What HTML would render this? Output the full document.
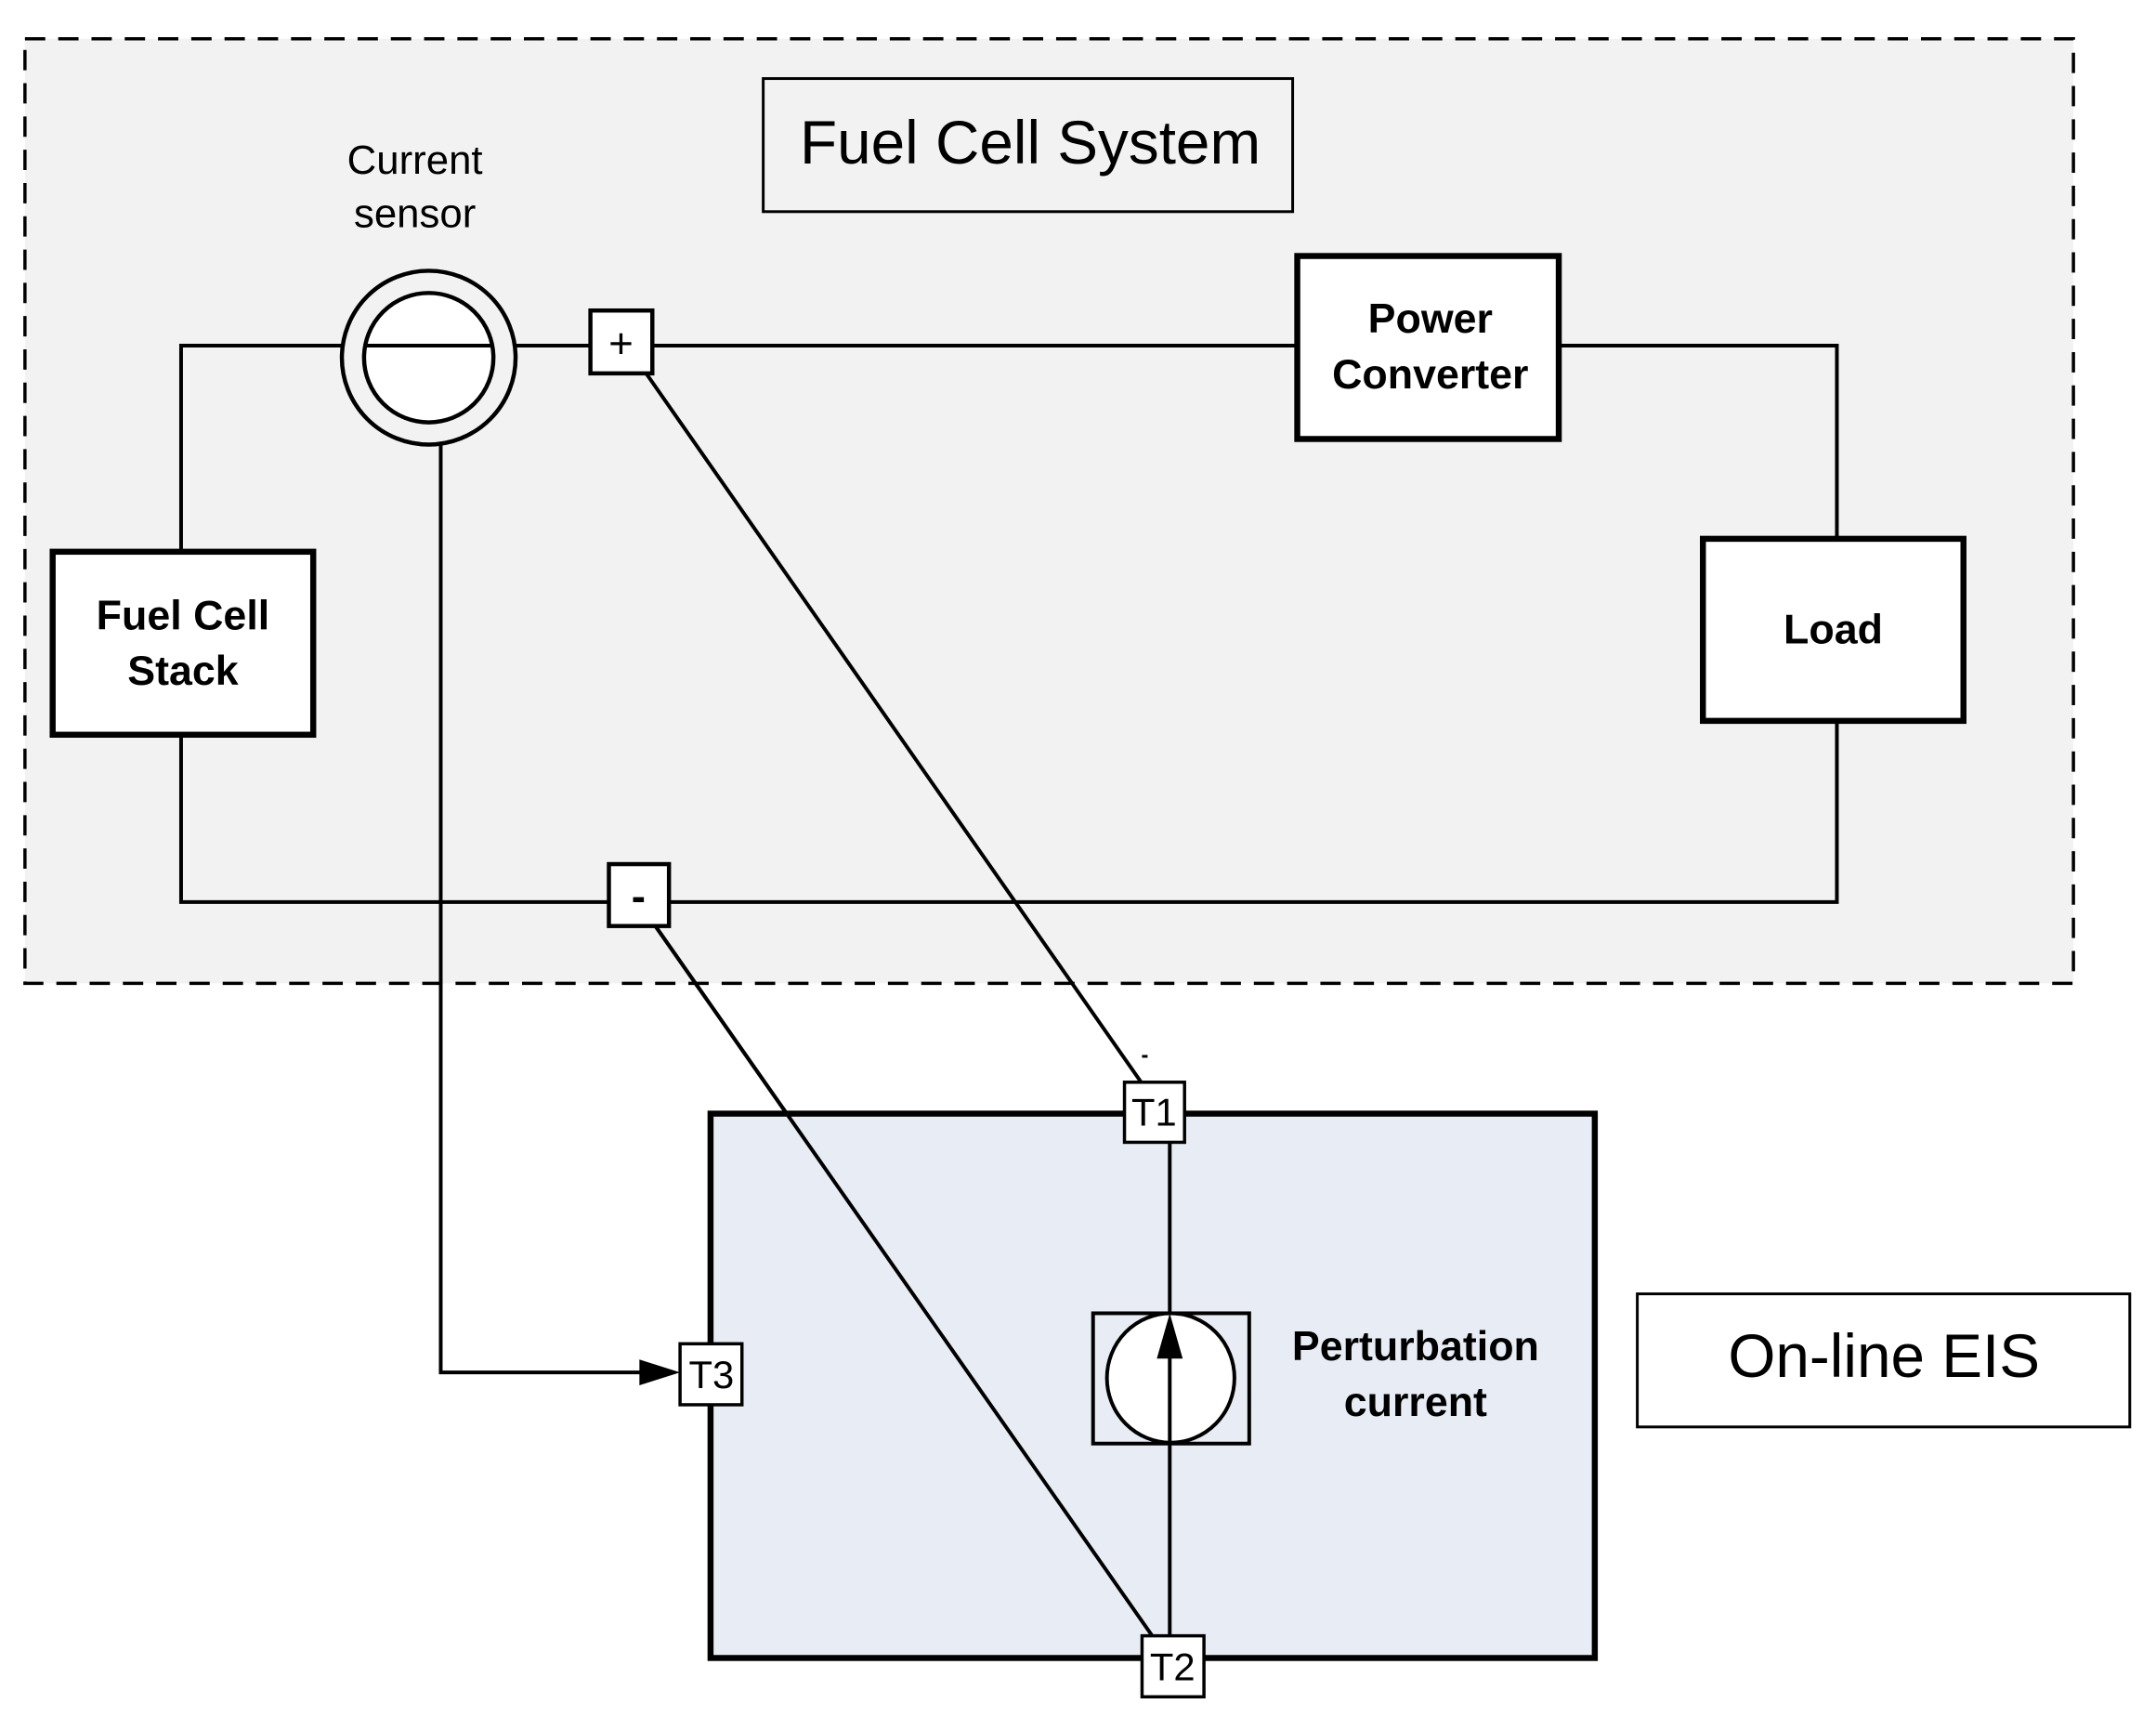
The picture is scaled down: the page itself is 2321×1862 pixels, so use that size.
<!DOCTYPE html>
<html><head><meta charset="utf-8"><style>body{margin:0;background:#fff}</style></head>
<body>
<svg width="2321" height="1857" viewBox="0 0 2321 1857" xmlns="http://www.w3.org/2000/svg" font-family="Liberation Sans, sans-serif">
<rect width="2321" height="1857" fill="#fff"/>
<g transform="scale(0.9947)">
<rect x="27" y="42" width="2217" height="1022" fill="#f2f2f2" stroke="#000" stroke-width="3.5" stroke-dasharray="22,14"/>
<rect x="826" y="85" width="573" height="144" fill="#f2f2f2" stroke="#000" stroke-width="3"/>
<text x="1115" y="177" font-size="66" text-anchor="middle">Fuel Cell System</text>
<text x="449" y="188" font-size="44" text-anchor="middle">Current</text>
<text x="449" y="246" font-size="44" text-anchor="middle">sensor</text>
<g stroke="#000" stroke-width="4" fill="none">
<polyline points="196,597 196,374 1988,374 1988,582"/>
<polyline points="196,795 196,976 1988,976 1988,780"/>
<line x1="700" y1="405" x2="1235" y2="1171"/>
<line x1="710" y1="1003" x2="1247" y2="1770"/>
<polyline points="477,480 477,1485 700,1485"/>
</g>
<polygon points="736,1485 692,1471 692,1499" fill="#000"/>
<line x1="1236" y1="1143" x2="1242" y2="1143" stroke="#000" stroke-width="3"/>
<circle cx="464" cy="387" r="94" fill="#f2f2f2" stroke="#000" stroke-width="4.5"/>
<circle cx="464" cy="387" r="70" fill="#fff" stroke="#000" stroke-width="4.5"/>
<line x1="394" y1="374" x2="534" y2="374" stroke="#000" stroke-width="4"/>
<rect x="639" y="336" width="67" height="68" fill="#fff" stroke="#000" stroke-width="4.5"/>
<text x="672" y="387" font-size="46" text-anchor="middle">+</text>
<rect x="659" y="935" width="65" height="67" fill="#fff" stroke="#000" stroke-width="4.5"/>
<text x="691" y="985" font-size="46" font-weight="bold" text-anchor="middle">-</text>
<rect x="1404" y="277" width="283" height="198" fill="#fff" stroke="#000" stroke-width="6.5"/>
<text x="1548" y="360" font-size="45" font-weight="bold" text-anchor="middle">Power</text>
<text x="1548" y="420" font-size="45" font-weight="bold" text-anchor="middle">Converter</text>
<rect x="1843" y="583" width="282" height="197" fill="#fff" stroke="#000" stroke-width="6.5"/>
<text x="1984" y="696" font-size="45" font-weight="bold" text-anchor="middle">Load</text>
<rect x="57" y="597" width="282" height="198" fill="#fff" stroke="#000" stroke-width="6.5"/>
<text x="198" y="681" font-size="45" font-weight="bold" text-anchor="middle">Fuel Cell</text>
<text x="198" y="741" font-size="45" font-weight="bold" text-anchor="middle">Stack</text>
<rect x="769" y="1205" width="957" height="589" fill="#e8ecf4" stroke="#000" stroke-width="6.5"/>
<g stroke="#000" stroke-width="4" fill="none">
<line x1="710" y1="1003" x2="1247" y2="1770"/>
<line x1="1266" y1="1236" x2="1266" y2="1770"/>
</g>
<rect x="1183" y="1421" width="169" height="141" fill="#e8ecf4" stroke="#000" stroke-width="4"/>
<ellipse cx="1267" cy="1491" rx="69" ry="70" fill="#fff" stroke="#000" stroke-width="4"/>
<line x1="1266" y1="1460" x2="1266" y2="1562" stroke="#000" stroke-width="4"/>
<polygon points="1266,1421 1252,1470 1280,1470" fill="#000"/>
<text x="1532" y="1472" font-size="45" font-weight="bold" text-anchor="middle">Perturbation</text>
<text x="1532" y="1532" font-size="45" font-weight="bold" text-anchor="middle">current</text>
<rect x="1217" y="1171" width="65" height="65" fill="#fff" stroke="#000" stroke-width="3.5"/>
<text x="1249" y="1218" font-size="42" text-anchor="middle">T1</text>
<rect x="1236" y="1770" width="67" height="66" fill="#fff" stroke="#000" stroke-width="3.5"/>
<text x="1269" y="1818" font-size="42" text-anchor="middle">T2</text>
<rect x="736" y="1454" width="67" height="66" fill="#fff" stroke="#000" stroke-width="3.5"/>
<text x="770" y="1502" font-size="42" text-anchor="middle">T3</text>
<rect x="1772" y="1400" width="533" height="144" fill="#fff" stroke="#000" stroke-width="3"/>
<text x="2039" y="1490" font-size="66" text-anchor="middle">On-line EIS</text>
</g>
</svg>
</body></html>
